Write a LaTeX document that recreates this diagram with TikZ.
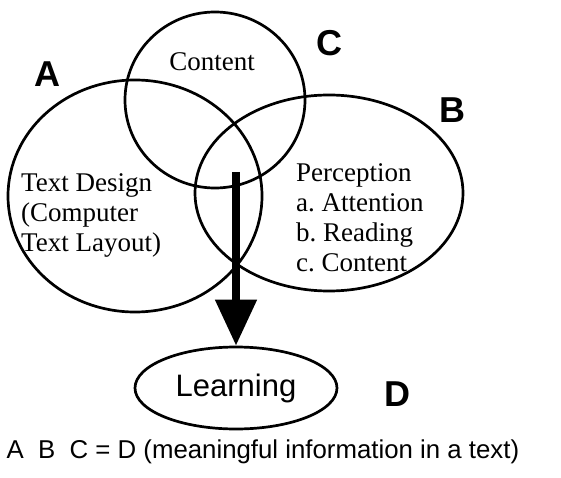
\documentclass[tikz,border=0pt]{standalone}
\usepackage{fontspec}
\setmainfont{Liberation Serif}
\newfontfamily\capfont{Liberation Sans}
\usepackage{tikz}
\tikzset{>=latex}
\usetikzlibrary{shapes.geometric,arrows.meta}
\frenchspacing

\tikzset{
  set/.style={line width=2.7pt},
  setname/.style={font=\capfont\bfseries\fontsize{36}{36}\selectfont},
  settext/.style={font=\fontsize{27}{30}\selectfont, align=left, inner sep=0pt},
}

\begin{document}
\begin{tikzpicture}[x=1pt, y=-1pt]
  \useasboundingbox (0, 0) rectangle (561, 478);
  % the three sets
  \draw[set] (135, 196) ellipse (127 and 116);
  \draw[set] (215, 100) ellipse (90 and 88);
  \draw[set] (329, 193) ellipse (134 and 98);
  \node[setname] (la) at (47, 74) {A};
  \node[setname] (lb) at (452, 110) {B};
  \node[setname] (lc) at (329, 43) {C};
  \node[setname] (ld) at (397, 394) {D};
  \node[settext] (content) at (212, 62) {Content};
  \node[settext, anchor=west] (design) at (21, 215)
    {Text Design\\ (Computer\\Text Layout)};
  \node[settext, anchor=west] (percept) at (296, 218)
    {Perception\\ a. Attention\\ b. Reading\\ c. Content};
  % result
  \node[ellipse, draw, set, minimum width=202pt, minimum height=82pt,
        font=\capfont\fontsize{31}{31}\selectfont] (learn) at (236, 388) {Learning};
  \coordinate (core) at (236, 172);
  \draw[line width=8pt, -{Triangle[width=40pt, length=46pt]}] (core) -- (learn.north);
  \node[font=\capfont\fontsize{25.8}{26}\selectfont, anchor=west] (note) at (3, 452)
    {A\ \ B\ \ C = D (meaningful information in a text)};
\end{tikzpicture}
\end{document}
